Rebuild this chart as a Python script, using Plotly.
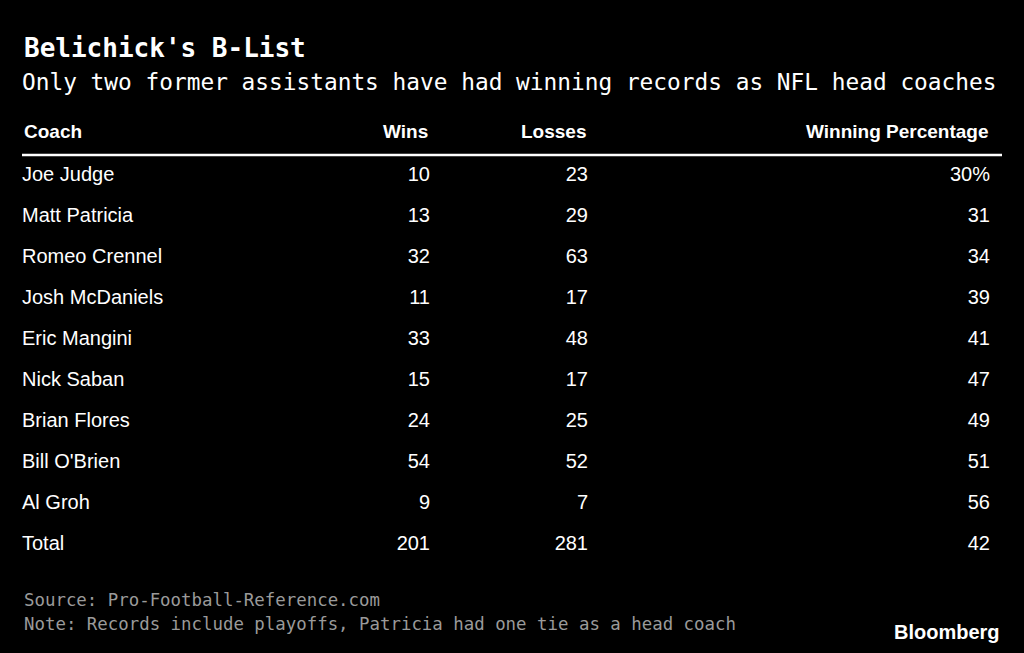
import plotly.graph_objects as go

coaches = ["Joe Judge","Matt Patricia","Romeo Crennel","Josh McDaniels","Eric Mangini",
           "Nick Saban","Brian Flores","Bill O'Brien","Al Groh","Total"]
wins = [10,13,32,11,33,15,24,54,9,201]
losses = [23,29,63,17,48,17,25,52,7,281]
pct = ["30%","31","34","39","41","47","49","51","56","42"]
headers = ["Coach","Wins","Losses","Winning Percentage"]

row_y = [176 + 41*i for i in range(len(coaches))]
tf = dict(family="Liberation Sans, Arial", size=20, color="white")

fig = go.Figure()
fig.add_trace(go.Scatter(x=[22]*len(coaches), y=row_y, text=coaches, mode="text",
                         textposition="middle right", textfont=tf, hoverinfo="skip"))
fig.add_trace(go.Scatter(x=[430]*len(wins), y=row_y, text=[str(v) for v in wins], mode="text",
                         textposition="middle left", textfont=tf, hoverinfo="skip"))
fig.add_trace(go.Scatter(x=[588]*len(losses), y=row_y, text=[str(v) for v in losses], mode="text",
                         textposition="middle left", textfont=tf, hoverinfo="skip"))
fig.add_trace(go.Scatter(x=[990]*len(pct), y=row_y, text=pct, mode="text",
                         textposition="middle left", textfont=tf, hoverinfo="skip"))

hf = dict(family="Liberation Sans, Arial", size=19, color="white", weight="bold")
for txt, x, anc in zip(headers, [22,430,588,990], ["left","right","right","right"]):
    fig.add_annotation(x=x, y=131, text=txt, showarrow=False, xanchor=anc, yanchor="middle", font=hf)

fig.add_shape(type="line", x0=22, x1=1002, y0=155, y1=155, line=dict(color="white", width=2.5))

fig.add_annotation(x=22, y=48, text="<b>Belichick's B-List</b>", showarrow=False, xanchor="left",
                   yanchor="middle", font=dict(family="DejaVu Sans Mono", size=26, color="white"))
fig.add_annotation(x=20, y=82, text="Only two former assistants have had winning records as NFL head coaches",
                   showarrow=False, xanchor="left", yanchor="middle",
                   font=dict(family="DejaVu Sans Mono", size=22.8, color="white"))
nf = dict(family="DejaVu Sans Mono", size=17.4, color="#9a9a9a")
fig.add_annotation(x=22, y=600, text="Source: Pro-Football-Reference.com", showarrow=False,
                   xanchor="left", yanchor="middle", font=nf)
fig.add_annotation(x=22, y=624, text="Note: Records include playoffs, Patricia had one tie as a head coach",
                   showarrow=False, xanchor="left", yanchor="middle", font=nf)
fig.add_annotation(x=1002, y=632, text="<b>Bloomberg</b>", showarrow=False, xanchor="right",
                   yanchor="middle", font=dict(family="Liberation Sans, Arial", size=20, color="white"))

fig.update_layout(width=1024, height=653, margin=dict(l=0, r=0, t=0, b=0),
                  paper_bgcolor="black", plot_bgcolor="black", showlegend=False,
                  xaxis=dict(range=[0,1024], visible=False, fixedrange=True),
                  yaxis=dict(range=[653,0], visible=False, fixedrange=True))
fig.write_html("out.html", config={"displayModeBar": False},
               post_script="document.body.style.margin='0';document.body.style.background='black';document.body.style.overflow='hidden';")
